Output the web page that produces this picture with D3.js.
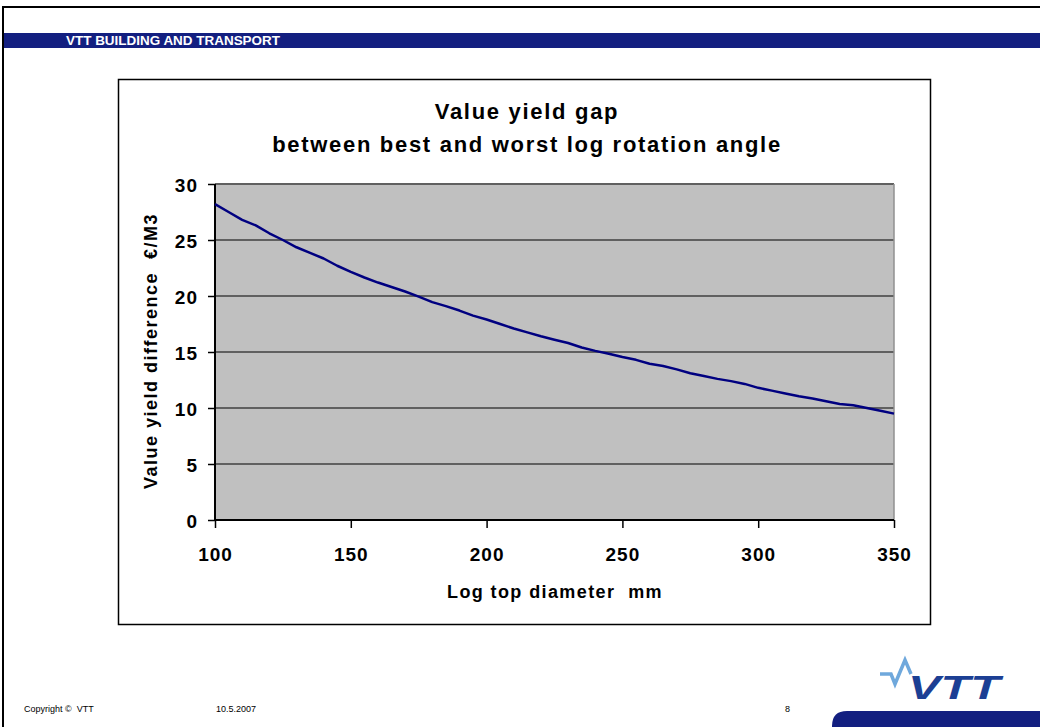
<!DOCTYPE html>
<meta charset="utf-8">
<script src="https://d3js.org/d3.v7.min.js"></script>
<style>
  body { margin: 0; background: #fff; }
  svg text { font-family: "Liberation Sans", Arial, sans-serif; white-space: pre; }
</style>
<div id="slide"></div>
<script>

    // log top diameter (mm) and value yield gap (EUR/m3)
    var diameters = [100, 105, 110, 115, 120, 125, 130, 135, 140, 145,
        150, 155, 160, 165, 170, 175, 180, 185, 190, 195,
        200, 205, 210, 215, 220, 225, 230, 235, 240, 245,
        250, 255, 260, 265, 270, 275, 280, 285, 290, 295,
        300, 305, 310, 315, 320, 325, 330, 335, 340, 345, 350];
    var yieldGap = [28.2, 27.5, 26.8, 26.3, 25.6, 25.0, 24.35, 23.85, 23.35, 22.7,
        22.15, 21.65, 21.2, 20.8, 20.4, 19.95, 19.45, 19.1, 18.7, 18.25,
        17.9, 17.5, 17.1, 16.75, 16.4, 16.1, 15.8, 15.4, 15.1, 14.85,
        14.55, 14.3, 13.95, 13.75, 13.45, 13.1, 12.85, 12.6, 12.4, 12.15,
        11.8, 11.55, 11.3, 11.05, 10.85, 10.6, 10.36, 10.24, 10.0, 9.75, 9.5];
    var xTicks = [100, 150, 200, 250, 300, 350];
    var yTicks = [0, 5, 10, 15, 20, 25, 30];

    var titleLines = ["Value yield gap", "between best and worst log rotation angle"];
    var xTitle = "Log top diameter  mm";
    var yTitle = "Value yield difference  €/M3";

    var W = 1040, H = 727;
    var svg = d3.select("#slide").append("svg")
        .attr("width", W).attr("height", H);

    // slide frame + header band
    svg.append("path")
        .attr("d", "M3,727 V7 H1040")
        .attr("fill", "none").attr("stroke", "#000").attr("stroke-width", 2);
    svg.append("rect")
        .attr("x", 4).attr("y", 33).attr("width", W - 4).attr("height", 15)
        .attr("fill", "#131f80");
    svg.append("text")
        .attr("x", 66).attr("y", 45)
        .attr("fill", "#fff").attr("font-size", 12).attr("font-weight", "bold")
        .attr("textLength", 214).attr("lengthAdjust", "spacingAndGlyphs")
        .text("VTT BUILDING AND TRANSPORT");

    // chart box
    svg.append("rect")
        .attr("x", 118.5).attr("y", 79.5).attr("width", 812).attr("height", 545)
        .attr("fill", "#fff").attr("stroke", "#000").attr("stroke-width", 1.5);

    svg.selectAll(".title").data(titleLines).enter().append("text")
        .attr("class", "title")
        .attr("x", 527).attr("y", function (d, i) { return 119 + i * 33; })
        .attr("text-anchor", "middle")
        .attr("font-size", 22).attr("font-weight", "bold")
        .attr("letter-spacing", 1.7)
        .text(function (d) { return d; });

    // plot area
    var margin = { top: 184, left: 215 },
        width = 894 - 215,
        height = 520 - 184;

    var g = svg.append("g")
        .attr("transform", "translate(" + margin.left + "," + margin.top + ")");

    var x = d3.scaleLinear().domain([100, 350]).range([0, width]);
    var y = d3.scaleLinear().domain([0, 30]).range([height, 0]);

    g.append("rect")
        .attr("width", width).attr("height", height)
        .attr("fill", "#c0c0c0");

    // gridlines
    g.selectAll(".grid").data(yTicks.filter(function (d) { return d > 0; }))
        .enter().append("line")
        .attr("x1", 0).attr("x2", width)
        .attr("y1", function (d) { return y(d); })
        .attr("y2", function (d) { return y(d); })
        .attr("stroke", "#606060").attr("stroke-width", 2);

    // right border
    g.append("line")
        .attr("x1", width).attr("x2", width).attr("y1", 0).attr("y2", height)
        .attr("stroke", "#909090").attr("stroke-width", 1.5);

    // axes
    var yAxis = g.append("g")
        .call(d3.axisLeft(y).tickValues(yTicks).tickSize(7).tickPadding(10));
    var xAxis = g.append("g")
        .attr("transform", "translate(0," + height + ")")
        .call(d3.axisBottom(x).tickValues(xTicks).tickSize(8).tickPadding(20));

    [xAxis, yAxis].forEach(function (a) {
        a.select(".domain").attr("stroke", "#000").attr("stroke-width", 2);
        a.selectAll(".tick line").attr("stroke", "#000").attr("stroke-width", 1.5);
        a.selectAll(".tick text")
            .attr("fill", "#000")
            .attr("font-family", "Liberation Sans, Arial, sans-serif")
            .attr("font-size", 19).attr("font-weight", "bold")
            .attr("letter-spacing", 1);
    });
    yAxis.selectAll(".tick text").attr("dy", "0.42em");
    yAxis.select(".domain").attr("d", "M0,0V" + height);
    xAxis.select(".domain").attr("d", "M0,0H" + width);

    // the series
    var pts = diameters.map(function (d, i) { return [d, yieldGap[i]]; });
    g.append("path")
        .datum(pts)
        .attr("fill", "none")
        .attr("stroke", "#000080").attr("stroke-width", 2.5)
        .attr("stroke-linejoin", "round")
        .attr("d", d3.line()
            .x(function (d) { return x(d[0]); })
            .y(function (d) { return y(d[1]); }));

    // axis titles
    svg.append("text")
        .attr("x", 555).attr("y", 598)
        .attr("text-anchor", "middle")
        .attr("font-size", 18).attr("font-weight", "bold")
        .attr("letter-spacing", 1.4)
        .text(xTitle);
    svg.append("text")
        .attr("transform", "translate(157,351) rotate(-90)")
        .attr("text-anchor", "middle")
        .attr("font-size", 18).attr("font-weight", "bold")
        .attr("letter-spacing", 1.5)
        .text(yTitle);

    // footer
    var foot = [["Copyright ©  VTT", 24], ["10.5.2007", 216], ["8", 785]];
    svg.selectAll(".foot").data(foot).enter().append("text")
        .attr("x", function (d) { return d[1]; }).attr("y", 712)
        .attr("font-size", 9).attr("fill", "#000")
        .text(function (d) { return d[0]; });

    svg.append("path")
        .attr("d", "M832,727 V726 Q832,711 847,711 H1040 V727 Z")
        .attr("fill", "#131f80");

    // VTT logo
    svg.append("path")
        .attr("d", "M880,674 H891 L895,684 L905,660 L911,674")
        .attr("fill", "none").attr("stroke", "#6fa8dc").attr("stroke-width", 3.5)
        .attr("stroke-linejoin", "miter");
    svg.append("text")
        .attr("x", 908).attr("y", 699)
        .attr("font-size", 34).attr("font-weight", "900").attr("font-style", "italic")
        .attr("fill", "#1c3f94")
        .attr("textLength", 92).attr("lengthAdjust", "spacingAndGlyphs")
        .text("VTT");

</script>
